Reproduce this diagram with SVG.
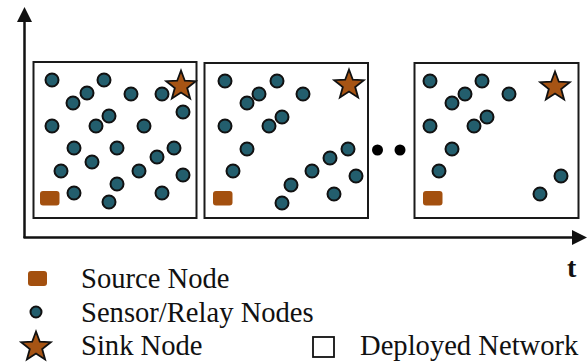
<svg xmlns="http://www.w3.org/2000/svg" xmlns:xlink="http://www.w3.org/1999/xlink" width="588" height="362" viewBox="0 0 588 362">
<style>
.box{fill:#fff;stroke:#1a1a1a;stroke-width:2}
.n{fill:#235e6d;stroke:#111;stroke-width:2}
.src{fill:#a3500f}
.sink{fill:#a65414;stroke:#111;stroke-width:1.8;stroke-linejoin:miter}
.axis{stroke:#111;stroke-width:2.5;fill:none}
.dot{fill:#000}
.lbl{font-family:"Liberation Serif","Times New Roman",serif;font-size:28.6px;fill:#111}
.t{font-family:"Liberation Serif","Times New Roman",serif;font-size:28px;font-weight:bold;fill:#111}
</style>
<defs>
<polygon id="star" points="0,-15.5 3.82,-5.26 14.74,-4.79 6.18,2.01 9.11,12.54 0,6.5 -9.11,12.54 -6.18,2.01 -14.74,-4.79 -3.82,-5.26"/>
<circle id="c" r="6.5"/>
</defs>
<g id="connectors">
<line class="axis" x1="24.5" y1="238" x2="24.5" y2="20"/>
<polygon points="24.5,7 17,22 32,22" fill="#111"/>
<line class="axis" x1="23.5" y1="237.5" x2="574" y2="237.5"/>
<polygon points="587,237.5 572,230 572,245" fill="#111"/>
</g>
<g id="network1">
<rect class="box" x="33.5" y="62" width="163" height="156"/>
<g class="n">
<use href="#c" x="52" y="80"/><use href="#c" x="104" y="80"/><use href="#c" x="87" y="93"/><use href="#c" x="73" y="103"/>
<use href="#c" x="131" y="94"/><use href="#c" x="162" y="94"/><use href="#c" x="183" y="112"/><use href="#c" x="52" y="126"/>
<use href="#c" x="96" y="126"/><use href="#c" x="109" y="116"/><use href="#c" x="144" y="126"/><use href="#c" x="74" y="148"/>
<use href="#c" x="117" y="148"/><use href="#c" x="174" y="148"/><use href="#c" x="157" y="157"/><use href="#c" x="92" y="162"/>
<use href="#c" x="61" y="171"/><use href="#c" x="139" y="171"/><use href="#c" x="183" y="175"/><use href="#c" x="117" y="184"/>
<use href="#c" x="74" y="193"/><use href="#c" x="162" y="193"/><use href="#c" x="109" y="202"/>
</g>
<rect class="src" x="40" y="191" width="19.5" height="14.5" rx="3"/>
<use class="sink" href="#star" x="181" y="86"/>
</g>
<g id="network2">
<rect class="box" x="204.5" y="63" width="163.5" height="155"/>
<g class="n">
<use href="#c" x="225" y="81"/><use href="#c" x="277" y="81"/><use href="#c" x="259" y="94"/><use href="#c" x="247" y="103"/>
<use href="#c" x="303" y="94"/><use href="#c" x="225" y="126"/><use href="#c" x="269" y="126"/><use href="#c" x="282" y="117"/>
<use href="#c" x="247" y="149"/><use href="#c" x="348" y="149"/><use href="#c" x="330" y="158"/><use href="#c" x="233" y="171"/>
<use href="#c" x="312" y="171"/><use href="#c" x="356" y="176"/><use href="#c" x="291" y="185"/><use href="#c" x="334" y="194"/>
<use href="#c" x="282" y="203"/>
</g>
<rect class="src" x="213" y="191" width="19.5" height="14.5" rx="3"/>
<use class="sink" href="#star" x="349" y="85"/>
</g>
<g id="ellipsis">
<circle class="dot" cx="377.5" cy="150" r="5.5"/>
<circle class="dot" cx="400" cy="150" r="5.5"/>
</g>
<g id="network3">
<rect class="box" x="414.5" y="63" width="164" height="155"/>
<g class="n">
<use href="#c" x="430" y="81"/><use href="#c" x="482" y="81"/><use href="#c" x="465" y="94"/><use href="#c" x="452" y="103"/>
<use href="#c" x="509" y="94"/><use href="#c" x="430" y="126"/><use href="#c" x="474" y="126"/><use href="#c" x="487" y="117"/>
<use href="#c" x="452" y="149"/><use href="#c" x="439" y="171"/><use href="#c" x="561" y="176"/><use href="#c" x="540" y="194"/>
</g>
<rect class="src" x="423" y="191" width="19.5" height="14.5" rx="3"/>
<use class="sink" href="#star" x="555" y="87"/>
</g>
<text class="t" x="567" y="277">t</text>
<g id="legend">
<rect class="src" x="28" y="271" width="19" height="15" rx="3"/>
<text class="lbl" x="81" y="288">Source Node</text>
<circle class="n" cx="36" cy="312" r="5.5"/>
<text class="lbl" x="81" y="322">Sensor/Relay Nodes</text>
<use class="sink" href="#star" x="36" y="347"/>
<text class="lbl" x="81" y="355">Sink Node</text>
<rect x="313" y="337" width="21" height="20" fill="#fff" stroke="#111" stroke-width="1.8"/>
<text class="lbl" x="360" y="355">Deployed Network</text>
</g>
</svg>
